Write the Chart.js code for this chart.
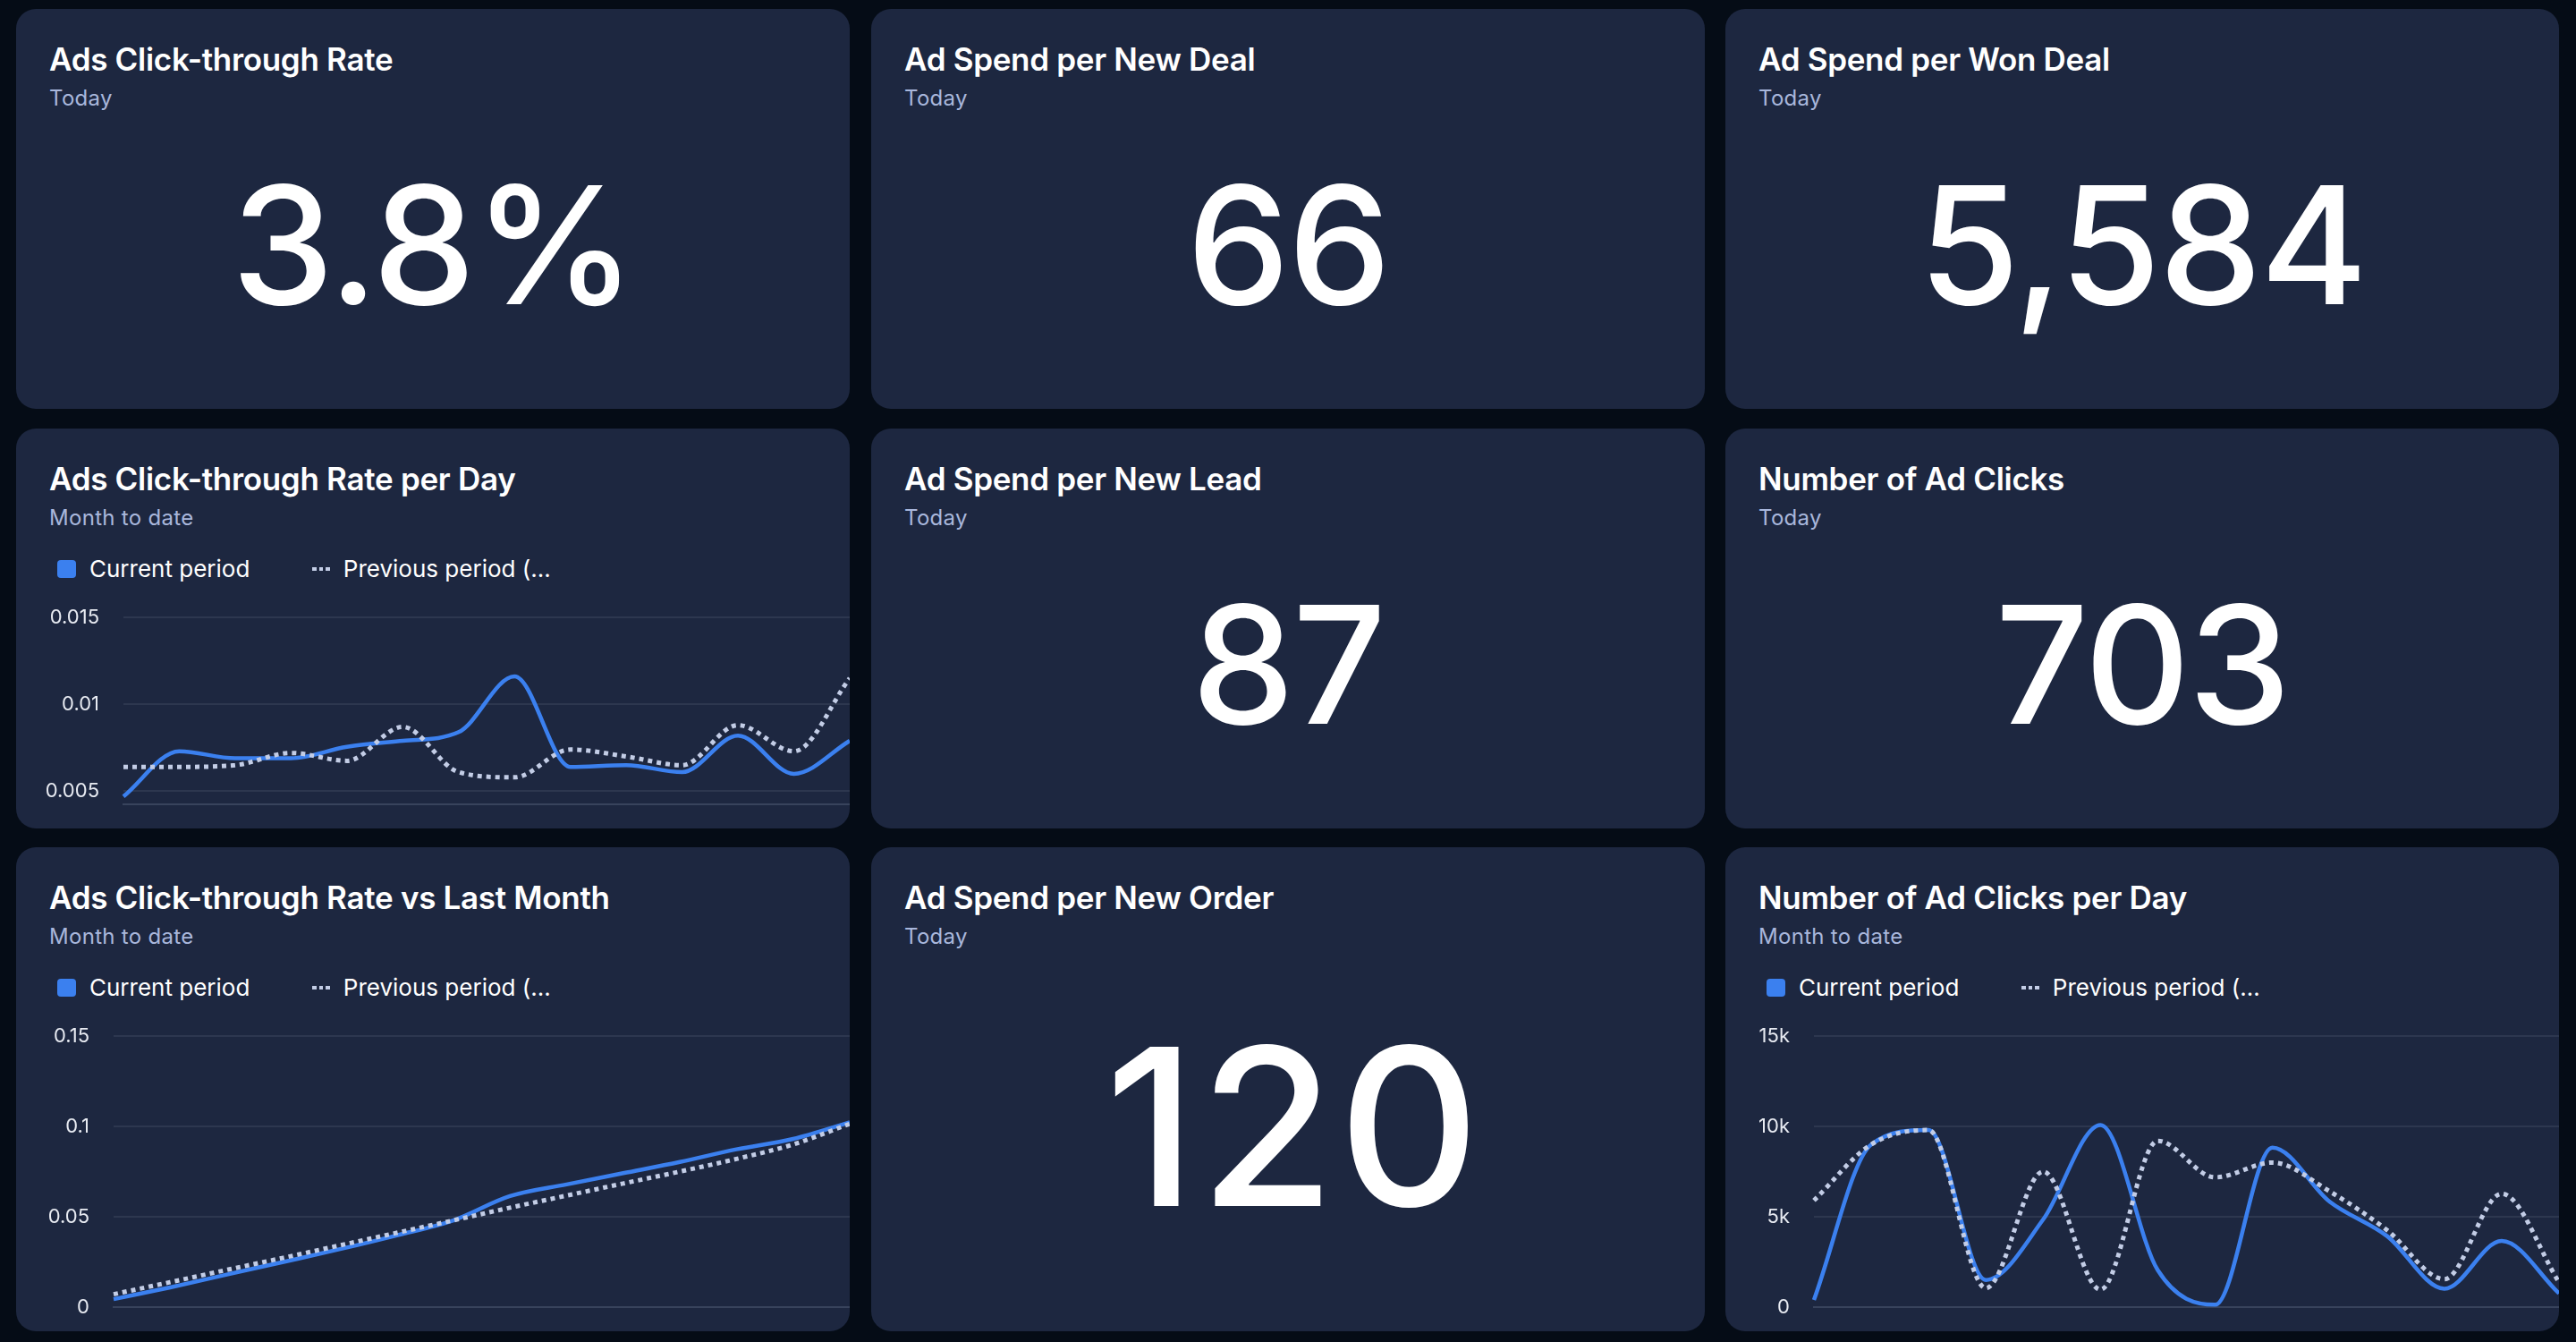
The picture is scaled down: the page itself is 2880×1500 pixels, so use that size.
<!DOCTYPE html>
<html>
<head>
<meta charset="utf-8">
<title>Ads dashboard</title>
<script src="https://cdn.jsdelivr.net/npm/chart.js@4.4.1/dist/chart.umd.min.js"></script>
<style>
  html, body { margin: 0; padding: 0; }
  body {
    width: 2880px; height: 1500px; position: relative; overflow: hidden;
    background: #050c16; font-family: Inter, "Noto Sans", sans-serif;
  }
  .card { position: absolute; background: #1d2740; border-radius: 22px; overflow: hidden; }
  .title {
    position: absolute; left: 37px; top: 39px; color: #fff; white-space: nowrap;
    font-size: 35px; font-weight: 600; line-height: 1; letter-spacing: -0.3px;
  }
  .sub {
    position: absolute; left: 37px; top: 88px; color: #a9b7dc; white-space: nowrap;
    font-size: 24px; line-height: 1; letter-spacing: 0.3px;
  }
  .big {
    position: absolute; left: 0; right: 0; top: 130px; bottom: 50px;
    display: flex; align-items: center; justify-content: center;
    color: #fff; font-weight: 500; line-height: 1; letter-spacing: -2px;
  }
  .legend {
    position: absolute; left: 46px; top: 144px; height: 26px;
    display: flex; align-items: center; color: #fff; font-size: 26px; line-height: 26px; white-space: nowrap;
  }
  .legend .box { width: 21px; height: 20px; border-radius: 4px; background: #3b80ef; margin-right: 15px; }
  .legend .dots { display: flex; gap: 3px; margin: 0 15px 0 70px; }
  .legend .dots i { width: 4.5px; height: 4.5px; background: #c3cde6; }
  .plot { position: absolute; left: 17px; right: 0; top: 180px; bottom: 0; }
</style>
</head>
<body>
<script>
// card grid
const colLeft = [18, 974, 1929];
const rowTop = [10, 479, 947];
const rowHeight = [447, 447, 541];
const cardWidth = 932;

// single value tiles
const kpiTitles = ["Ads Click-through Rate", "Ad Spend per New Deal", "Ad Spend per Won Deal", "Ad Spend per New Lead", "Number of Ad Clicks", "Ad Spend per New Order"];
const kpiValues = ["3.8%", "66", "5,584", "87", "703", "120"];
const kpiCells = [[0, 0], [0, 1], [0, 2], [1, 1], [1, 2], [2, 1]];

// line charts
const seriesNames = ["Current period", "Previous period (…"];
const days = ["1", "2", "3", "4", "5", "6", "7", "8", "9", "10", "11", "12", "13", "14"];

const ctrCurrent = [0.0047, 0.0073, 0.0069, 0.0069, 0.00755, 0.0079, 0.0084, 0.0116, 0.0064, 0.0065, 0.0061, 0.0082, 0.0060, 0.0079];
const ctrPrevious = [0.0064, 0.0064, 0.0065, 0.0072, 0.00675, 0.0087, 0.0061, 0.0058, 0.0074, 0.0070, 0.0065, 0.0088, 0.0073, 0.0115];
const ctrTicks = [0.005, 0.01, 0.015];
const ctrTickLabels = ["0.005", "0.01", "0.015"];

const cumCurrent = [0.0044, 0.0109, 0.018, 0.025, 0.0321, 0.0397, 0.048, 0.0614, 0.0679, 0.0741, 0.0803, 0.0873, 0.0931, 0.1023];
const cumPrevious = [0.0071, 0.0138, 0.0206, 0.0273, 0.0342, 0.0411, 0.048, 0.055, 0.0617, 0.0684, 0.075, 0.082, 0.09, 0.1014];
const cumTicks = [0, 0.05, 0.1, 0.15];
const cumTickLabels = ["0", "0.05", "0.1", "0.15"];

const clicksCurrent = [400, 9000, 9800, 1500, 4850, 10080, 2040, 130, 8820, 5830, 3930, 1020, 3660, 760];
const clicksPrevious = [5900, 9000, 9800, 1050, 7500, 970, 9200, 7180, 8000, 6400, 4260, 1550, 6270, 1380];
const clicksTicks = [0, 5000, 10000, 15000];
const clicksTickLabels = ["0", "5k", "10k", "15k"];

function makeCard(row, col, title, subtitle) {
  const card = document.createElement("div");
  card.className = "card";
  card.style.left = colLeft[col] + "px";
  card.style.top = rowTop[row] + "px";
  card.style.width = cardWidth + "px";
  card.style.height = rowHeight[row] + "px";
  card.innerHTML = '<div class="title">' + title + '</div><div class="sub">' + subtitle + '</div>';
  document.body.appendChild(card);
  return card;
}

kpiTitles.forEach((title, i) => {
  const [row, col] = kpiCells[i];
  const card = makeCard(row, col, title, "Today");
  const big = document.createElement("div");
  big.className = "big";
  if (row === 2) {
    big.style.fontSize = "245px";
    big.style.letterSpacing = "4px";
    big.style.bottom = "46px";
    big.style.paddingLeft = "14px";
  } else {
    big.style.fontSize = "183px";
  }
  big.textContent = kpiValues[i];
  card.appendChild(big);
});

function lineCard(row, col, title, current, previous, yMin, yMax, tickValues, tickLabels, axisWidth) {
  const card = makeCard(row, col, title, "Month to date");
  card.insertAdjacentHTML("beforeend",
    '<div class="legend"><span class="box"></span>' + seriesNames[0] +
    '<span class="dots"><i></i><i></i><i></i></span>' + seriesNames[1] + '</div>' +
    '<div class="plot"><canvas></canvas></div>');

  new Chart(card.querySelector("canvas"), {
    type: "line",
    data: {
      labels: days,
      datasets: [{
        label: seriesNames[0],
        data: current,
        borderColor: "#3b80ef",
        borderWidth: 4.5,
        order: 1
      }, {
        label: seriesNames[1],
        data: previous,
        borderColor: "#c3cde6",
        borderWidth: 5,
        borderDash: [5, 5],
        borderCapStyle: "butt",
        order: 0
      }]
    },
    options: {
      responsive: true,
      maintainAspectRatio: false,
      animation: false,
      layout: { autoPadding: false, padding: { top: 31, bottom: 27, left: 0, right: 0 } },
      elements: {
        point: { radius: 0, hoverRadius: 0 },
        line: { cubicInterpolationMode: "monotone", fill: false }
      },
      plugins: { legend: { display: false }, tooltip: { enabled: false } },
      scales: {
        x: {
          ticks: { display: false },
          grid: { display: false, drawTicks: false, tickLength: 0 },
          border: { display: true, color: "#38435c", width: 2 }
        },
        y: {
          min: yMin,
          max: yMax,
          afterBuildTicks: axis => { axis.ticks = tickValues.map(v => ({ value: v })); },
          afterFit: axis => {
            axis.width = axisWidth + 20;
            axis.paddingTop = 0;
            axis.paddingBottom = 0;
          },
          ticks: {
            color: "#e8ebf2",
            padding: 27,
            font: { family: "Inter", size: 22 },
            callback: (v, i) => tickLabels[i]
          },
          grid: { color: "#2d374f", lineWidth: 2, drawTicks: false, tickLength: 0 },
          border: { display: false }
        }
      }
    }
  });
}

lineCard(1, 0, "Ads Click-through Rate per Day", ctrCurrent, ctrPrevious, 0.00425, 0.015, ctrTicks, ctrTickLabels, 83);
lineCard(2, 0, "Ads Click-through Rate vs Last Month", cumCurrent, cumPrevious, 0, 0.15, cumTicks, cumTickLabels, 72);
lineCard(2, 2, "Number of Ad Clicks per Day", clicksCurrent, clicksPrevious, 0, 15000, clicksTicks, clicksTickLabels, 62);
</script>
</body>
</html>
